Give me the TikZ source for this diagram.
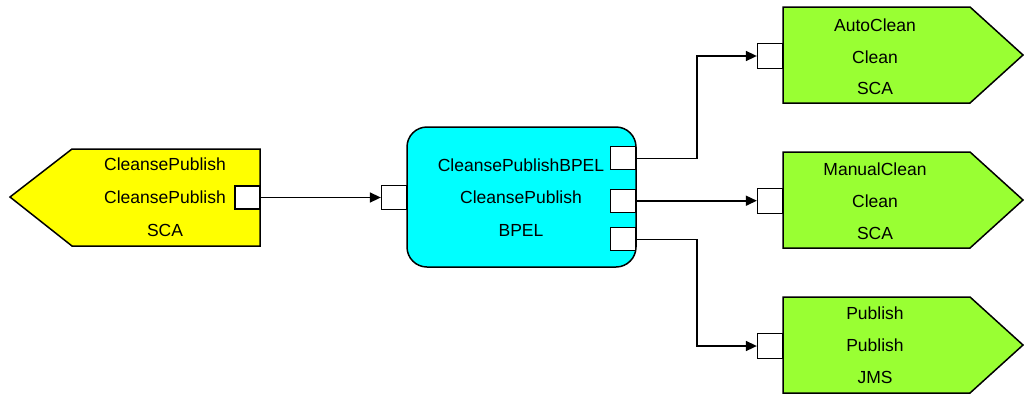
\documentclass[tikz,border=0pt]{standalone}
\usepackage{fontspec}
\setmainfont{Liberation Sans}
\usetikzlibrary{arrows.meta}
\definecolor{ylw}{RGB}{255,255,0}
\definecolor{cyn}{RGB}{0,255,255}
\definecolor{grn}{RGB}{153,255,51}
\tikzset{
  shapeline/.style={draw=black, line width=1.5pt, line join=miter},
  port/.style={draw=black, fill=white, line width=1.3pt, rectangle, inner sep=0pt, minimum width=25pt, minimum height=24pt},
  lbl/.style={font=\fontsize{17.5}{20}\selectfont, inner sep=0pt, anchor=center},
  conn/.style={draw=black, line width=1.6pt, -{Triangle[length=11pt,width=10pt]}},
}
\begin{document}
\begin{tikzpicture}[x=1pt,y=-1pt]
\useasboundingbox (0,0) rectangle (1024,394);
% yellow component
\path[shapeline, fill=ylw] (10,197) -- (72,149) -- (260,149) -- (260,246) -- (72,246) -- cycle;
\node[lbl] (y1) at (165,164) {CleansePublish};
\node[lbl] (y2) at (165,197) {CleansePublish};
\node[lbl] (y3) at (165,230) {SCA};
\node[port, minimum height=23pt] (yp) at (247.5,197.5) {};
% cyan component
\path[shapeline, fill=cyn, rounded corners=20pt] (407,127) rectangle (636,267);
\node[lbl] (c1) at (521,165) {CleansePublishBPEL};
\node[lbl] (c2) at (521,197) {CleansePublish};
\node[lbl] (c3) at (521,230) {BPEL};
\node[port] (cin) at (394,197.5) {};
\node[port, minimum height=23pt] (co1) at (623,158.3) {};
\node[port, minimum height=23pt] (co2) at (623,200.7) {};
\node[port, minimum height=23pt] (co3) at (623,239.3) {};
% green components
\path[shapeline, fill=grn] (783,7) -- (970,7) -- (1023,55) -- (970,103) -- (783,103) -- cycle;
\node[lbl] (a1) at (875,25) {AutoClean};
\node[lbl] (a2) at (875,57) {Clean};
\node[lbl] (a3) at (875,88) {SCA};
\node[port, minimum height=25pt] (ap) at (770,56) {};
\path[shapeline, fill=grn] (783,152) -- (970,152) -- (1023,200) -- (970,248) -- (783,248) -- cycle;
\node[lbl] (m1) at (875,169) {ManualClean};
\node[lbl] (m2) at (875,201.5) {Clean};
\node[lbl] (m3) at (875,233) {SCA};
\node[port, minimum height=25pt] (mp) at (770,201) {};
\path[shapeline, fill=grn] (783,297) -- (970,297) -- (1023,345) -- (970,393) -- (783,393) -- cycle;
\node[lbl] (p1) at (875,313.5) {Publish};
\node[lbl] (p2) at (875,345.5) {Publish};
\node[lbl] (p3) at (875,377.5) {JMS};
\node[port, minimum height=25pt] (pp) at (770,346) {};
% connectors
\coordinate (j1) at (697,158.3);
\coordinate (j3) at (697,239.3);
\draw[conn] (yp.east) -- (cin.west);
\draw[conn] (co1.east) -- (j1) |- (ap.west);
\draw[conn] (co2.east) -- (co2.east -| mp.west);
\draw[conn] (co3.east) -- (j3) |- (pp.west);
\end{tikzpicture}
\end{document}
